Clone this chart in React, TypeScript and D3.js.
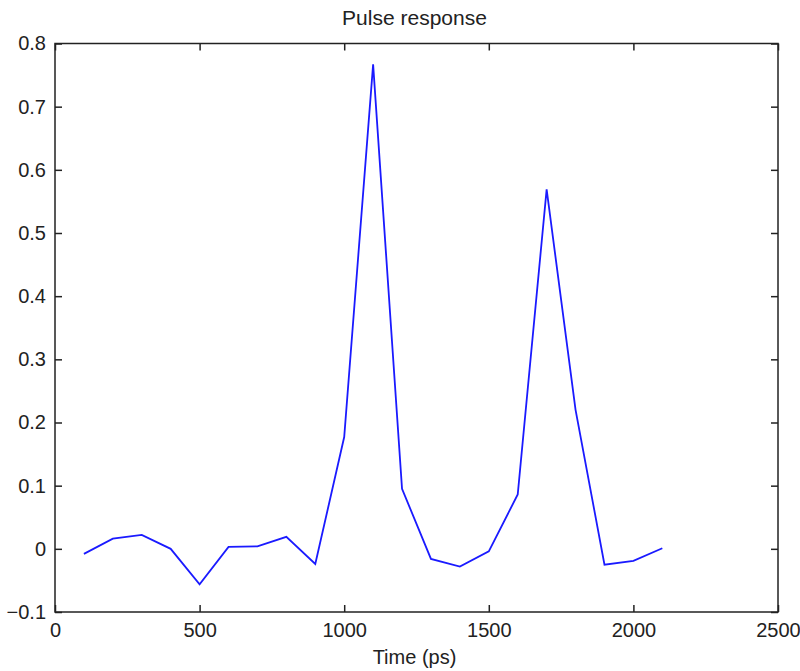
import React, { useEffect, useRef } from 'react';
import * as d3 from 'd3';

// Pulse response samples (time in ps, amplitude)
const times = [100, 200, 300, 400, 500, 600, 700, 800, 900, 1000, 1100, 1200, 1300, 1400, 1500, 1600, 1700, 1800, 1900, 2000, 2100];
const amplitudes = [-0.008, 0.016, 0.022, 0.0, -0.056, 0.003, 0.004, 0.019, -0.024, 0.177, 0.767, 0.095, -0.016, -0.028, -0.004, 0.086, 0.569, 0.22, -0.025, -0.019, 0.001];

const xTicks = [0, 500, 1000, 1500, 2000, 2500];
const yTicks = [-0.1, 0, 0.1, 0.2, 0.3, 0.4, 0.5, 0.6, 0.7, 0.8];

const App = () => {
    const svgRef = useRef<SVGSVGElement | null>(null);

    useEffect(() => {
        const svg = d3.select(svgRef.current);
        svg.selectAll('*').remove();

        const width = 800;
        const height = 671;
        const margin = { top: 43.5, right: 22, bottom: 59, left: 55 };
        const chartWidth = width - margin.left - margin.right;
        const chartHeight = height - margin.top - margin.bottom;
        const font = 'Arial, "Liberation Sans", Helvetica, sans-serif';
        const tickLen = 7;

        svg.attr('width', width).attr('height', height);

        svg.append('rect')
            .attr('width', width)
            .attr('height', height)
            .attr('fill', 'white');

        const g = svg.append('g')
            .attr('transform', `translate(${margin.left},${margin.top})`);

        const x = d3.scaleLinear().domain([0, 2500]).range([0, chartWidth]);
        const y = d3.scaleLinear().domain([-0.1, 0.8]).range([chartHeight, 0]);

        // Line
        const data = times.map((t, i) => ({ t, v: amplitudes[i] }));
        const line = d3.line<{ t: number; v: number }>()
            .x(d => x(d.t))
            .y(d => y(d.v));

        g.append('path')
            .datum(data)
            .attr('d', line)
            .attr('fill', 'none')
            .attr('stroke', '#1a1aff')
            .attr('stroke-width', 1.8)
            .attr('stroke-linejoin', 'miter');

        // Axes: MATLAB style box with inward ticks on all sides
        const styleAxis = (sel: any) => {
            sel.select('.domain').remove();
            sel.selectAll('.tick line').attr('stroke', '#222').attr('stroke-width', 1.5);
            sel.selectAll('.tick text')
                .attr('fill', '#222')
                .style('font-family', font)
                .style('font-size', '20px');
        };

        const fmtY = (d: number) => (Math.abs(d) < 1e-9 ? '0' : d3.format('.1f')(d));

        g.append('g')
            .attr('transform', `translate(0,${chartHeight})`)
            .call(d3.axisBottom(x).tickValues(xTicks).tickSize(-tickLen).tickPadding(11).tickFormat(d3.format('d')))
            .call(styleAxis);

        g.append('g')
            .call(d3.axisTop(x).tickValues(xTicks).tickSize(-tickLen).tickFormat(() => ''))
            .call(styleAxis);

        g.append('g')
            .call(d3.axisLeft(y).tickValues(yTicks).tickSize(-tickLen).tickPadding(9).tickFormat(d => fmtY(+d)))
            .call(styleAxis);

        g.append('g')
            .attr('transform', `translate(${chartWidth},0)`)
            .call(d3.axisRight(y).tickValues(yTicks).tickSize(-tickLen).tickFormat(() => ''))
            .call(styleAxis);

        // Box
        g.append('rect')
            .attr('width', chartWidth)
            .attr('height', chartHeight)
            .attr('fill', 'none')
            .attr('stroke', '#222')
            .attr('stroke-width', 1.5);

        // Title
        svg.append('text')
            .attr('x', margin.left + chartWidth / 2 - 2)
            .attr('y', 25)
            .attr('text-anchor', 'middle')
            .style('font-family', font)
            .style('font-size', '21px')
            .attr('fill', '#222')
            .text('Pulse response');

        // X label
        svg.append('text')
            .attr('x', margin.left + chartWidth / 2 - 2)
            .attr('y', 664)
            .attr('text-anchor', 'middle')
            .style('font-family', font)
            .style('font-size', '20px')
            .attr('fill', '#222')
            .text('Time (ps)');
    }, []);

    return (
        <svg ref={svgRef} style={{ position: 'absolute', left: 0, top: 0, display: 'block' }}></svg>
    );
};

export default App;
